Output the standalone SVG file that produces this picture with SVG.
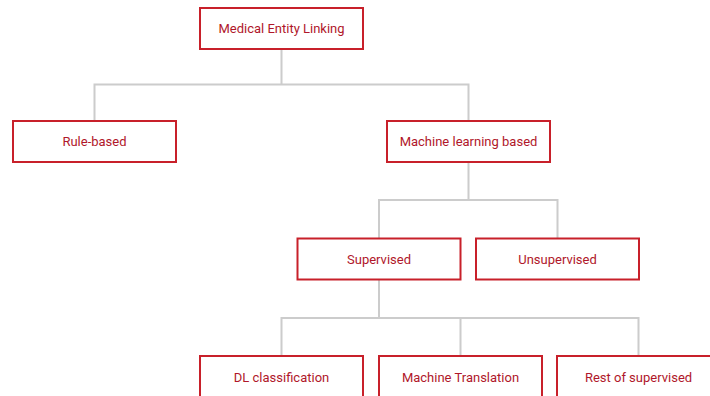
<svg xmlns="http://www.w3.org/2000/svg" width="710" height="396" viewBox="0 0 710 396">
<style>
.box{fill:#fff;stroke:#c8202a;stroke-width:2}
.lbl{font-family:Roboto,"Liberation Sans",sans-serif;font-size:13px;fill:#b0172a;text-anchor:middle;dominant-baseline:central}
.con{fill:none;stroke:#cccccc;stroke-width:2}
</style>
<rect width="710" height="396" fill="#fff"/>
<g id="connectors">
<path class="con" d="M281.5 49V84.5M94.5 121V84.5H468.5V121"/>
<path class="con" d="M468.5 162V200M379 238V200H557.5V238"/>
<path class="con" d="M379 280V318M281.5 356V318H638.5V356M460.5 318V356"/>
</g>
<g id="n-mel"><rect class="box" x="200" y="8" width="163" height="41"/><text class="lbl" x="281.5" y="28.5">Medical Entity Linking</text></g>
<g id="n-rule"><rect class="box" x="13" y="121" width="163" height="41"/><text class="lbl" x="94.5" y="141.5">Rule-based</text></g>
<g id="n-ml"><rect class="box" x="387" y="121" width="163" height="41"/><text class="lbl" x="468.5" y="141.5">Machine learning based</text></g>
<g id="n-sup"><rect class="box" x="297.5" y="238.5" width="163" height="41"/><text class="lbl" x="379" y="259">Supervised</text></g>
<g id="n-unsup"><rect class="box" x="476" y="238.5" width="163" height="41"/><text class="lbl" x="557.5" y="259">Unsupervised</text></g>
<g id="n-dl"><rect class="box" x="200" y="356" width="163" height="41"/><text class="lbl" x="281.5" y="377">DL classification</text></g>
<g id="n-mt"><rect class="box" x="379" y="356" width="163" height="41"/><text class="lbl" x="460.5" y="377">Machine Translation</text></g>
<g id="n-rest"><rect class="box" x="557" y="356" width="163" height="41"/><text class="lbl" x="638.5" y="377">Rest of supervised</text></g>
</svg>
